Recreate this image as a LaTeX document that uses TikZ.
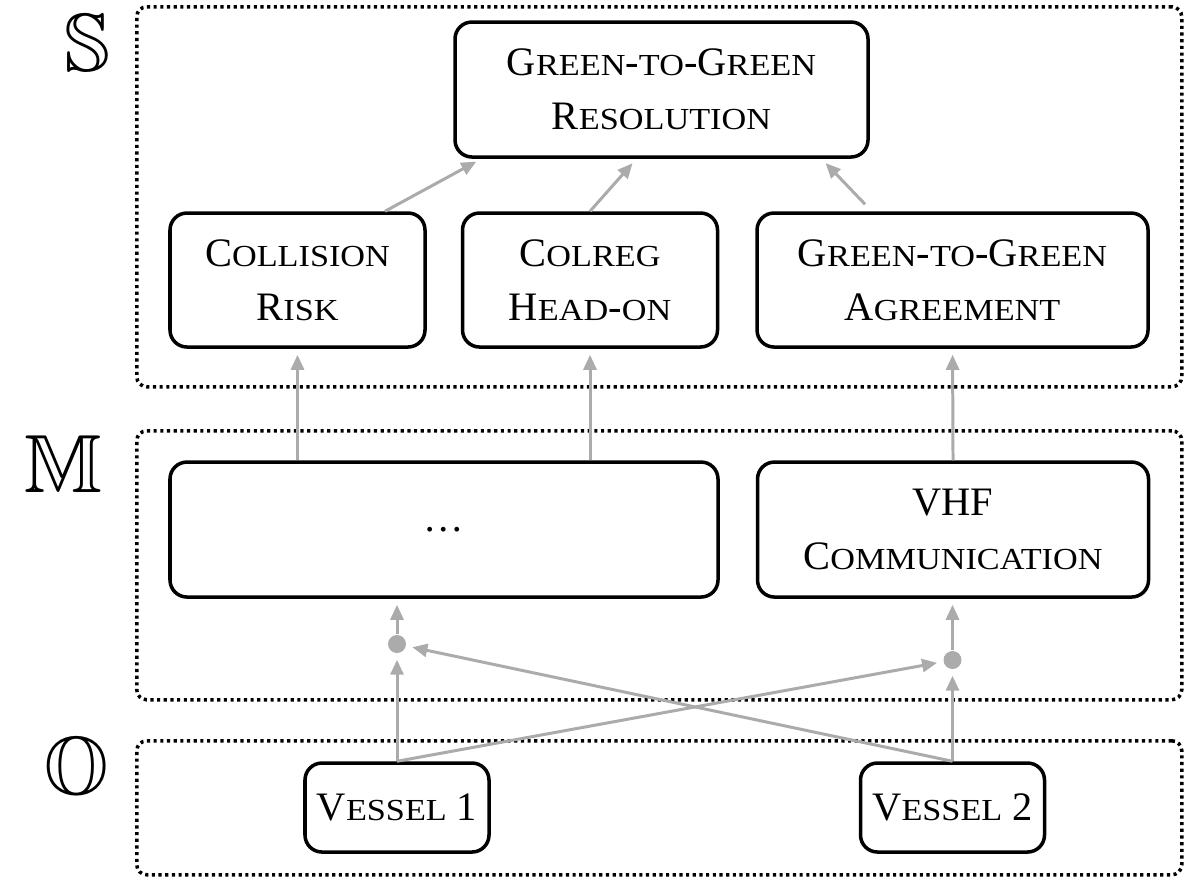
\documentclass[tikz,border=0pt]{standalone}
\usepackage{fontspec}
\setmainfont{Liberation Serif}
\newfontfamily\scfont{Liberation Serif}[FakeStretch=1.12]
\usepackage{amsmath}
\usepackage{amssymb}
\usetikzlibrary{arrows.meta,calc,positioning}

\newcommand{\smcap}[1]{{\scfont\fontsize{8.7}{15.4}\selectfont #1}}

\begin{document}
\begin{tikzpicture}[auto,>={Triangle[length=1.5mm,width=1.3mm]}]
	\tikzstyle{block} = [draw, rounded corners=1.7mm, line width=1pt, align=center, inner sep=0pt, font=\fontsize{11.5}{15.4}\selectfont]
	\tikzstyle{layer} = [draw, rounded corners=1mm, line width=1pt, dash pattern=on 0.9pt off 1pt, minimum width=10.45cm, anchor=north west, inner sep=0pt]
	\tikzstyle{tier} = [inner sep=0pt, font=\fontsize{23.5}{24}\selectfont]
	\tikzstyle{flow} = [->, draw=black!33, line width=0.85pt, shorten >=0.6mm]
	\tikzstyle{junction} = [fill=black!33, circle, minimum size=0.18cm, inner sep=0pt]

	\useasboundingbox (0,0) rectangle (11.90,-8.79);

	% layers
	\node [layer, minimum height=3.80cm] (slayer) at (1.35,-0.05) {};
	\node [layer, minimum height=2.69cm] (mlayer) at (1.35,-4.29) {};
	\node [layer, minimum height=1.34cm] (olayer) at (1.35,-7.39) {};
	\node [tier] (slabel) at (0.87,-0.43) {$\mathbb{S}$};
	\node [tier] (mlabel) at (0.64,-4.64) {$\mathbb{M}$};
	\node [tier] (olabel) at (0.77,-7.73) {$\mathbb{O}$};

	% situation layer
	\node [block, minimum width=4.13cm, minimum height=1.35cm] (res) at (6.615,-0.895) {G\smcap{REEN}-\smcap{TO}-G\smcap{REEN}\\R\smcap{ESOLUTION}};
	\node [block, minimum width=2.55cm, minimum height=1.34cm] (coll) at (2.975,-2.80) {C\smcap{OLLISION}\\R\smcap{ISK}};
	\node [block, minimum width=2.55cm, minimum height=1.34cm, right = 0.34cm of coll] (colreg) {C\smcap{OLREG}\\H\smcap{EAD}-\smcap{ON}};
	\node [block, minimum width=3.91cm, minimum height=1.34cm, right = 0.36cm of colreg] (agree) {G\smcap{REEN}-\smcap{TO}-G\smcap{REEN}\\A\smcap{GREEMENT}};

	% model layer
	\node [block, minimum width=5.48cm, minimum height=1.35cm, below = 1.115cm of coll.south west, anchor=north west] (misc) {\ldots};
	\node [block, minimum width=3.91cm, minimum height=1.35cm, right = 0.36cm of misc] (vhf) {VHF\\C\smcap{OMMUNICATION}};
	\node [junction] (ldot) at (3.97,-6.44) {};
	\node [junction] (rdot) at (9.525,-6.60) {};

	% observation layer
	\node [block, minimum width=1.84cm, minimum height=0.89cm] (v1) at (3.97,-8.075) {V\smcap{ESSEL} 1};
	\node [block, minimum width=1.84cm, minimum height=0.89cm] (v2) at (9.525,-8.075) {V\smcap{ESSEL} 2};

	\draw [flow] ([xshift=0.875cm]coll.north) -- ([xshift=-1.80cm]res.south);
	\draw [flow] (colreg.north) -- ([xshift=-0.25cm]res.south);
	\draw [flow] ([xshift=-0.875cm,yshift=0.07cm]agree.north) -- ([xshift=1.60cm]res.south);
	\draw [flow] (misc.north -| coll.south) -- (coll.south);
	\draw [flow] (misc.north -| colreg.south) -- (colreg.south);
	\draw [flow] (vhf.north) -- (agree.south);
	\draw [flow] (ldot) -- (misc.south -| ldot);
	\draw [flow] (rdot) -- (vhf.south -| rdot);
	\draw [flow] (v1.north) -- (ldot);
	\draw [flow] (v1.north) -- (rdot);
	\draw [flow] (v2.north) -- (ldot);
	\draw [flow] (v2.north) -- (rdot);
\end{tikzpicture}
\end{document}
